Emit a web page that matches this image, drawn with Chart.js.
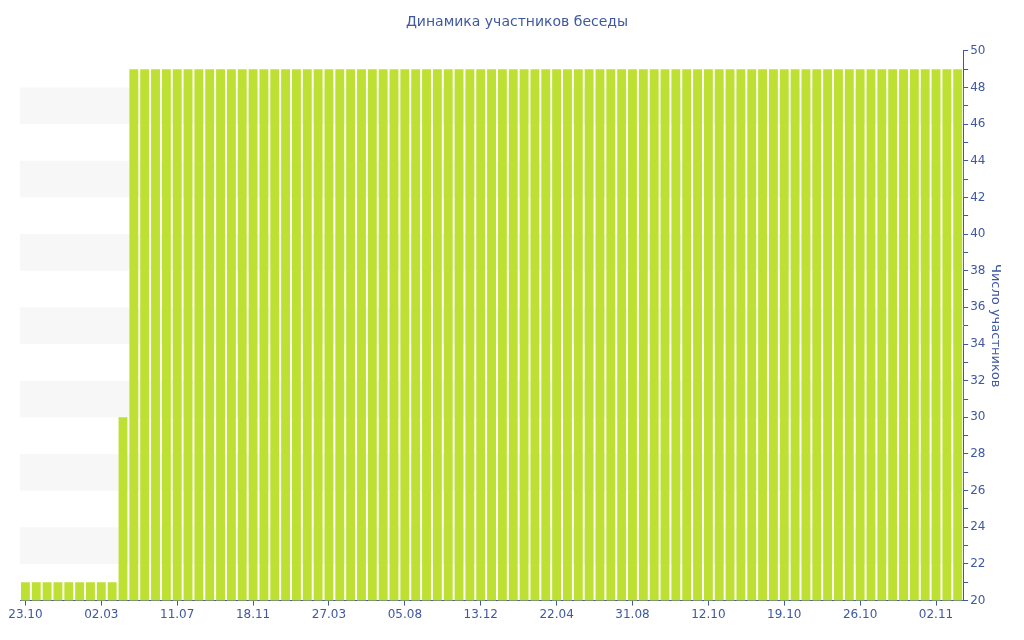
<!DOCTYPE html>
<html>
<head>
<meta charset="utf-8">
<script src="https://cdn.jsdelivr.net/npm/chart.js@4/dist/chart.umd.min.js"></script>
<style>
html,body{margin:0;padding:0;background:#fff;}
#wrap{width:1024px;height:640px;position:relative;}
</style>
</head>
<body>
<div id="wrap"><canvas id="c"></canvas></div>
<script>
const chartTitle = "Динамика участников беседы";
const axisTitle = "Число участников";
const tickLabels = ["23.10","02.03","11.07","18.11","27.03","05.08","13.12","22.04","31.08","12.10","19.10","26.10","02.11"];
const tickEvery = 7;
const participants = [
 21,21,21,21,21,21,21,21,21,30,
 49,49,49,49,49,49,49,49,49,49,
 49,49,49,49,49,49,49,49,49,49,
 49,49,49,49,49,49,49,49,49,49,
 49,49,49,49,49,49,49,49,49,49,
 49,49,49,49,49,49,49,49,49,49,
 49,49,49,49,49,49,49,49,49,49,
 49,49,49,49,49,49,49,49,49,49,
 49,49,49,49,49,49,49
];
const yMin = 20, yMax = 50;

const categories = participants.map((v, i) => (i % tickEvery === 0 && tickLabels[i / tickEvery]) ? tickLabels[i / tickEvery] : "");

const blue = "#3f58a0";

const bandPlugin = {
  id: "bands",
  beforeDatasetsDraw(chart) {
    const {ctx, chartArea, scales} = chart;
    const y = scales.y;
    ctx.save();
    ctx.fillStyle = "#f7f7f7";
    for (let v = 22; v < yMax; v += 4) {
      const top = y.getPixelForValue(v + 2);
      const bot = y.getPixelForValue(v);
      ctx.fillRect(chartArea.left, top, chartArea.right - chartArea.left, bot - top);
    }
    ctx.restore();
  }
};

new Chart(document.getElementById("c"), {
  type: "bar",
  data: {
    labels: categories,
    datasets: [{
      data: participants,
      backgroundColor: "#bde032",
      borderWidth: 0,
      barPercentage: 0.82,
      categoryPercentage: 1.0
    }]
  },
  options: {
    responsive: true,
    maintainAspectRatio: false,
    animation: false,
    layout: {padding: {left: 20, right: 10, top: 0, bottom: 16}},
    plugins: {
      legend: {display: false},
      tooltip: {enabled: false},
      title: {
        display: true,
        text: chartTitle,
        color: blue,
        font: {family: "DejaVu Sans", size: 14, weight: "normal"},
        padding: {top: 14, bottom: 20}
      }
    },
    scales: {
      x: {
        grid: {display: true, drawOnChartArea: false, drawTicks: true, tickLength: 5, color: blue, offset: false},
        border: {display: true, color: blue, width: 1},
        ticks: {
          autoSkip: false,
          maxRotation: 0,
          color: blue,
          padding: 2,
          font: {family: "DejaVu Sans", size: 12},
          callback: function(val, idx) { const l = this.getLabelForValue(val); return l === "" ? null : l; }
        }
      },
      y: {
        position: "right",
        min: yMin,
        max: yMax,
        grid: {display: true, drawOnChartArea: false, drawTicks: true, tickLength: 5, color: blue},
        border: {display: true, color: blue, width: 1},
        ticks: {
          stepSize: 1,
          color: blue,
          padding: 2,
          font: {family: "DejaVu Sans", size: 12},
          callback: v => (v % 2 === 0 ? v : "")
        },
        title: {
          display: true,
          text: axisTitle,
          color: blue,
          font: {family: "DejaVu Sans", size: 13},
          padding: {top: 11, bottom: 0}
        }
      }
    }
  },
  plugins: [bandPlugin]
});
</script>
</body>
</html>
